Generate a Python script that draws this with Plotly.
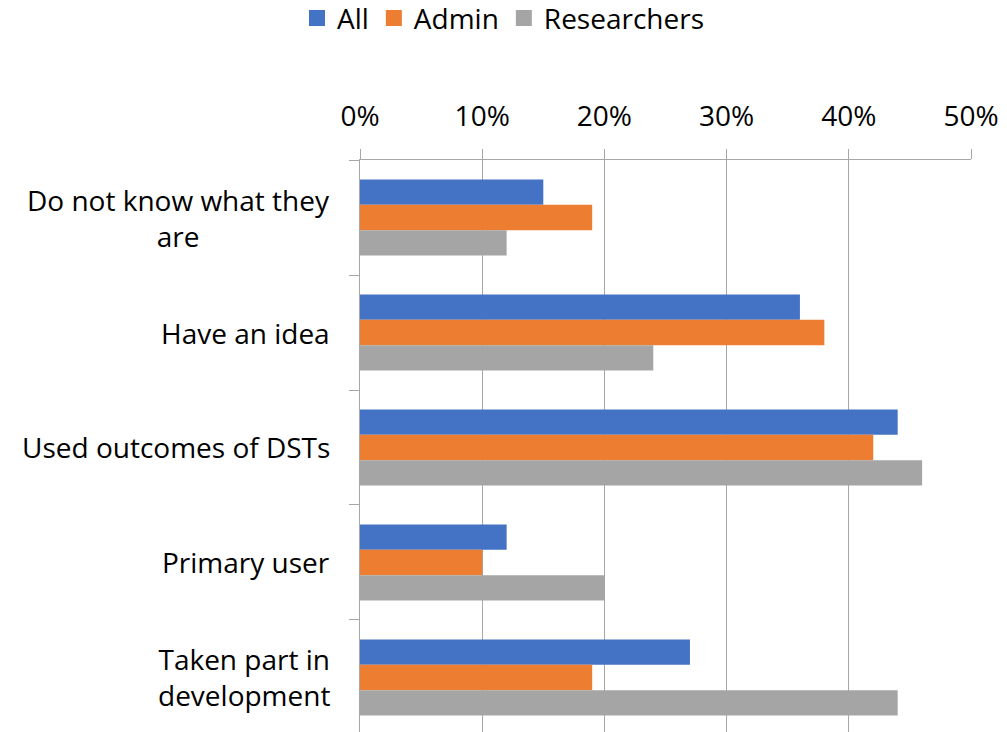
import plotly.graph_objects as go

categories = ["Do not know what they are", "Have an idea", "Used outcomes of DSTs",
              "Primary user", "Taken part in development"]
category_labels = ["Do not know what they<br>are", "Have an idea", "Used outcomes of DSTs",
                   "Primary user", "Taken part in<br>development"]
series_names = ["All", "Admin", "Researchers"]
all_vals = [0.15, 0.36, 0.44, 0.12, 0.27]
admin_vals = [0.19, 0.38, 0.42, 0.10, 0.19]
researcher_vals = [0.12, 0.24, 0.46, 0.20, 0.44]
tick_vals = [0, 0.1, 0.2, 0.3, 0.4, 0.5]

FONT = "Open Sans"
FS = 28
GRID = "#a6a6a6"
COLORS = ["#4472C4", "#ED7D31", "#A5A5A5"]

fig = go.Figure()
for name, vals, color in zip(series_names, [all_vals, admin_vals, researcher_vals], COLORS):
    fig.add_trace(go.Bar(y=categories, x=vals, name=name, orientation="h",
                         marker=dict(color=color, line=dict(width=0)),
                         showlegend=False, legendgroup=name))
# legend entries with larger square swatches
for name, color in zip(series_names, COLORS):
    fig.add_trace(go.Scatter(x=[None], y=[None], mode="markers", name=name,
                             marker=dict(symbol="square", size=18, color=color),
                             legendgroup=name, showlegend=True))

for cat, lab in zip(categories, category_labels):
    fig.add_annotation(x=0, xref="paper", y=cat, yref="y", text=lab,
                       showarrow=False, xanchor="right", yanchor="middle",
                       align="center", xshift=-28,
                       font=dict(family=FONT, size=FS, color="#000000"))

fig.update_layout(
    width=1007, height=732,
    margin=dict(l=360, r=36, t=160, b=0),
    paper_bgcolor="white", plot_bgcolor="white",
    barmode="group", bargap=0.34, bargroupgap=0,
    font=dict(family=FONT, size=FS, color="#000000"),
    legend=dict(orientation="h", x=0.5, xanchor="center", y=0.975, yanchor="middle",
                yref="container", xref="container", itemsizing="trace",
                font=dict(family=FONT, size=FS), traceorder="normal",
                bgcolor="rgba(0,0,0,0)"),
    xaxis=dict(side="top", range=[0, 0.5], tickvals=tick_vals, tickformat=".0%",
               showgrid=True, gridcolor=GRID, gridwidth=1,
               showline=True, linecolor=GRID, linewidth=1,
               ticks="outside", ticklen=10, tickcolor=GRID,
               ticklabelstandoff=12, zeroline=False, automargin=False,
               tickfont=dict(family=FONT, size=FS)),
    yaxis=dict(range=[4.474, -0.5], showticklabels=False,
               tickson="boundaries", ticks="outside", ticklen=10, tickcolor=GRID,
               showline=True, linecolor=GRID, linewidth=1, showgrid=False,
               automargin=False),
)

fig.write_html("out.html")
